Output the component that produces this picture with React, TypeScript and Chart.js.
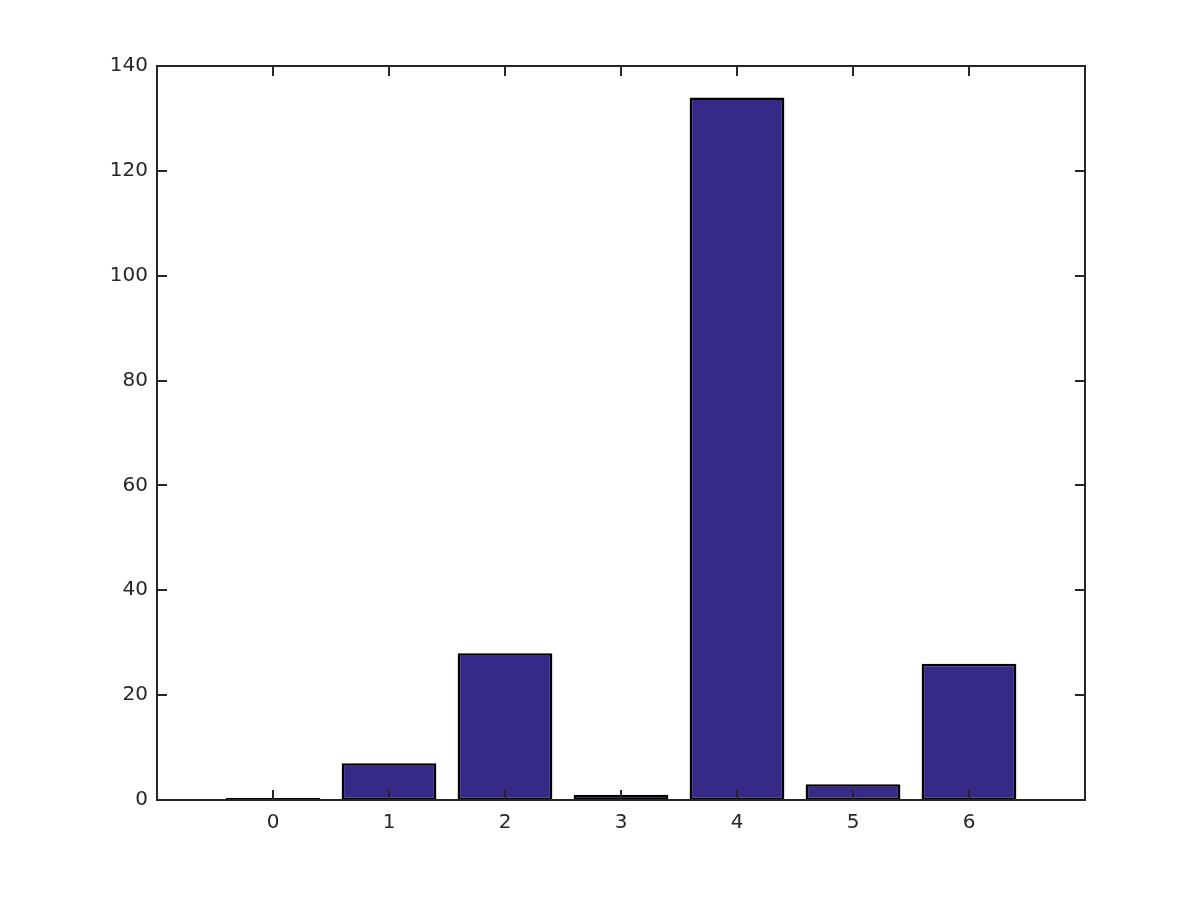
import React, { useEffect, useRef } from "react";
import { Chart, registerables } from "chart.js";

Chart.register(...registerables);

const categories = [0, 1, 2, 3, 4, 5, 6];
const counts = [0, 7, 28, 1, 134, 3, 26];
const yTickValues = [0, 20, 40, 60, 80, 100, 120, 140];
const xMin = -1;
const xMax = 7;

const AXIS_COLOR = "#262626";
const BAR_COLOR = "#352a87";

const boxAndTicks = {
  id: "boxAndTicks",
  afterDraw(chart: any) {
    const { ctx, chartArea } = chart;
    const xs = chart.scales.x;
    const ys = chart.scales.y;
    const L = 10;
    ctx.save();
    ctx.strokeStyle = AXIS_COLOR;
    ctx.lineWidth = 2;
    ctx.beginPath();
    ctx.rect(chartArea.left, chartArea.top, chartArea.right - chartArea.left, chartArea.bottom - chartArea.top);
    ctx.stroke();
    ctx.beginPath();
    categories.forEach((c) => {
      const px = Math.round(xs.getPixelForValue(c));
      ctx.moveTo(px, chartArea.bottom);
      ctx.lineTo(px, chartArea.bottom - L);
      ctx.moveTo(px, chartArea.top);
      ctx.lineTo(px, chartArea.top + L);
    });
    yTickValues.forEach((v) => {
      const py = Math.round(ys.getPixelForValue(v));
      ctx.moveTo(chartArea.left, py);
      ctx.lineTo(chartArea.left + L, py);
      ctx.moveTo(chartArea.right, py);
      ctx.lineTo(chartArea.right - L, py);
    });
    ctx.stroke();
    ctx.restore();
  },
};

export default function App() {
  const canvasRef = useRef<HTMLCanvasElement | null>(null);

  useEffect(() => {
    if (!canvasRef.current) return;
    const chart = new Chart(canvasRef.current, {
      type: "bar",
      data: {
        datasets: [
          {
            data: categories.map((c, i) => ({ x: c, y: counts[i] })),
            backgroundColor: BAR_COLOR,
            borderColor: "#000000",
            borderWidth: 2.5,
            borderSkipped: false,
            barPercentage: 0.817,
            categoryPercentage: 1,
            minBarLength: 2,
          },
        ],
      },
      options: {
        animation: false,
        responsive: false,
        maintainAspectRatio: false,
        events: [],
        layout: { padding: { top: 66, right: 115, left: 0, bottom: 0 } },
        plugins: {
          legend: { display: false },
          tooltip: { enabled: false },
          title: { display: false },
        },
        scales: {
          x: {
            type: "linear",
            min: xMin,
            max: xMax,
            offset: false,
            grid: { display: false, drawTicks: false },
            border: { display: false },
            ticks: {
              stepSize: 1,
              autoSkip: false,
              maxRotation: 0,
              padding: 11,
              color: AXIS_COLOR,
              font: { family: "DejaVu Sans", size: 20 },
              callback: (v: any) => (categories.includes(Number(v)) ? String(v) : ""),
            },
            afterFit: (s: any) => {
              s.height = 100;
            },
          },
          y: {
            type: "linear",
            min: 0,
            max: 140,
            grid: { display: false, drawTicks: false },
            border: { display: false },
            ticks: {
              stepSize: 20,
              padding: 9,
              color: AXIS_COLOR,
              font: { family: "DejaVu Sans", size: 20 },
              callback: (v: any) => (yTickValues.includes(Number(v)) ? String(v) : ""),
            },
            afterFit: (s: any) => {
              s.width = 157;
            },
          },
        },
      },
      plugins: [boxAndTicks],
    } as any);
    return () => chart.destroy();
  }, []);

  return (
    <div style={{ position: "fixed", left: 0, top: 0, width: 1200, height: 900, background: "#ffffff" }}>
      <canvas ref={canvasRef} width={1200} height={900} style={{ width: 1200, height: 900, display: "block" }} />
    </div>
  );
}
